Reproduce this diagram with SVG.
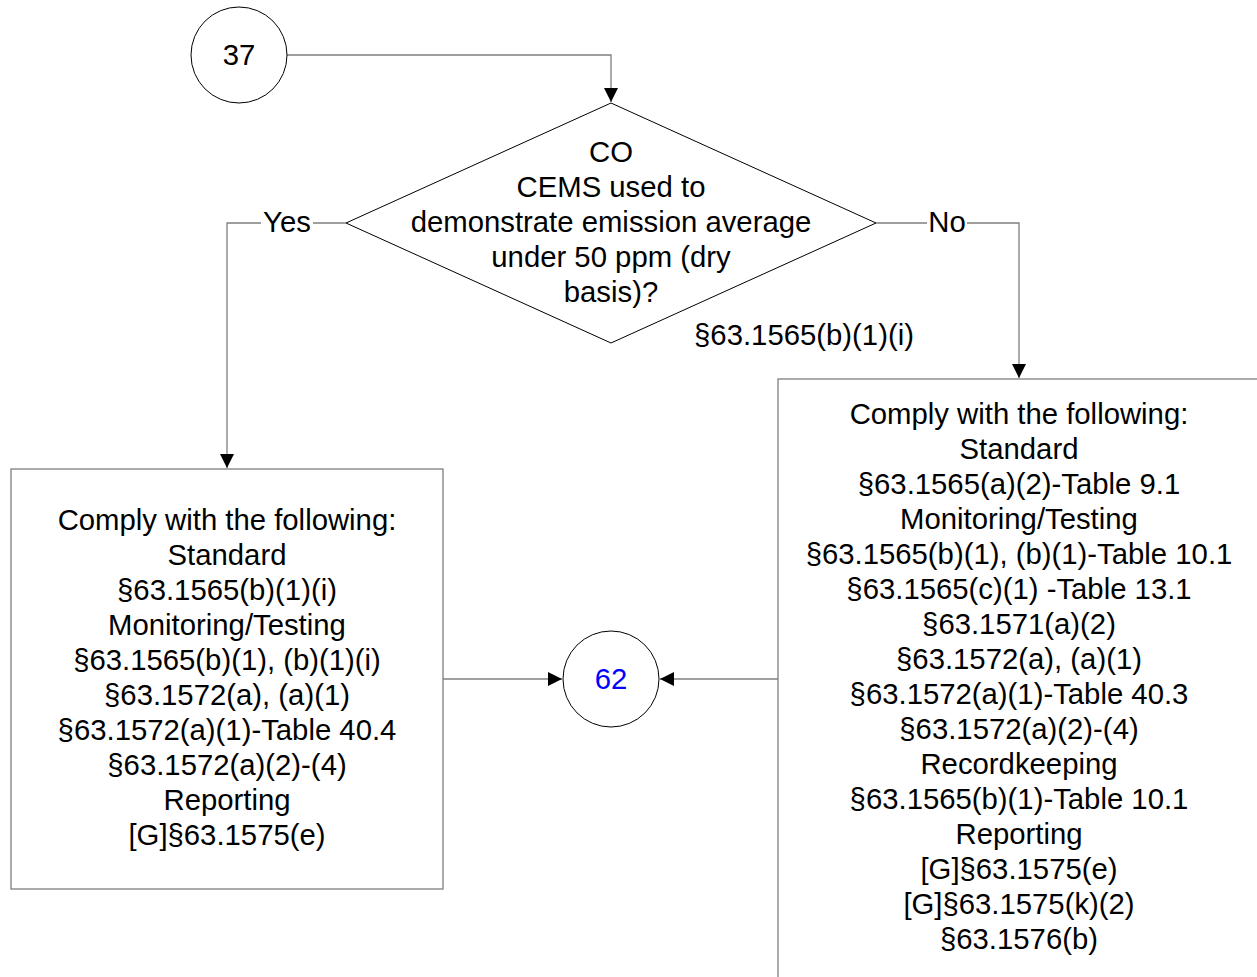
<svg xmlns="http://www.w3.org/2000/svg" width="1257" height="977" viewBox="0 0 1257 977">
<style>
text{font-family:"Liberation Sans",Arial,sans-serif;font-size:29.3px;fill:#000;text-anchor:middle}
.node{fill:#fff;stroke:#000;stroke-width:1}
.box{fill:#fff;stroke:#7f7f7f;stroke-width:1.3}
.conn{fill:none;stroke:#7f7f7f;stroke-width:1.3}
.lbl{fill:#fff;stroke:none}
</style>
<defs>
<marker id="arr" markerWidth="14" markerHeight="14" refX="14" refY="7" orient="auto" markerUnits="userSpaceOnUse">
<path d="M0,0 L14,7 L0,14 Z" fill="#000"/>
</marker>
</defs>
<rect width="1257" height="977" fill="#fff"/>
<g id="connectors">
<path class="conn" d="M287,55 H611 V102" marker-end="url(#arr)"/>
<path class="conn" d="M346,223 H227 V468" marker-end="url(#arr)"/>
<path class="conn" d="M876,223 H1019 V378" marker-end="url(#arr)"/>
<path class="conn" d="M443,679 H562" marker-end="url(#arr)"/>
<path class="conn" d="M778,679 H660" marker-end="url(#arr)"/>
<rect class="lbl" x="261" y="208" width="52" height="30"/>
<text x="287" y="232">Yes</text>
<rect class="lbl" x="927" y="208" width="40" height="30"/>
<text x="947" y="232">No</text>
</g>
<g id="n37">
<circle class="node" cx="239" cy="55" r="48"/>
<text x="239" y="65">37</text>
</g>
<g id="decision">
<polygon class="node" points="611,103 876,223 611,343 346,223"/>
<text x="611" y="162">CO</text>
<text x="611" y="197">CEMS used to</text>
<text x="611" y="232">demonstrate emission average</text>
<text x="611" y="267">under 50 ppm (dry</text>
<text x="611" y="302">basis)?</text>
<text x="804" y="345">§63.1565(b)(1)(i)</text>
</g>
<g id="yesbox">
<rect class="box" x="11" y="469" width="432" height="420"/>
<text x="227" y="530">Comply with the following:</text>
<text x="227" y="565">Standard</text>
<text x="227" y="600">§63.1565(b)(1)(i)</text>
<text x="227" y="635">Monitoring/Testing</text>
<text x="227" y="670">§63.1565(b)(1), (b)(1)(i)</text>
<text x="227" y="705">§63.1572(a), (a)(1)</text>
<text x="227" y="740">§63.1572(a)(1)-Table 40.4</text>
<text x="227" y="775">§63.1572(a)(2)-(4)</text>
<text x="227" y="810">Reporting</text>
<text x="227" y="845">[G]§63.1575(e)</text>
</g>
<g id="nobox">
<rect class="box" x="778" y="379" width="484" height="610"/>
<text x="1019" y="424">Comply with the following:</text>
<text x="1019" y="459">Standard</text>
<text x="1019" y="494">§63.1565(a)(2)-Table 9.1</text>
<text x="1019" y="529">Monitoring/Testing</text>
<text x="1019" y="564">§63.1565(b)(1), (b)(1)-Table 10.1</text>
<text x="1019" y="599">§63.1565(c)(1) -Table 13.1</text>
<text x="1019" y="634">§63.1571(a)(2)</text>
<text x="1019" y="669">§63.1572(a), (a)(1)</text>
<text x="1019" y="704">§63.1572(a)(1)-Table 40.3</text>
<text x="1019" y="739">§63.1572(a)(2)-(4)</text>
<text x="1019" y="774">Recordkeeping</text>
<text x="1019" y="809">§63.1565(b)(1)-Table 10.1</text>
<text x="1019" y="844">Reporting</text>
<text x="1019" y="879">[G]§63.1575(e)</text>
<text x="1019" y="914">[G]§63.1575(k)(2)</text>
<text x="1019" y="949">§63.1576(b)</text>
</g>
<g id="n62">
<circle class="node" cx="611" cy="679" r="48"/>
<text x="611" y="689" style="fill:#0000ff">62</text>
</g>
</svg>
